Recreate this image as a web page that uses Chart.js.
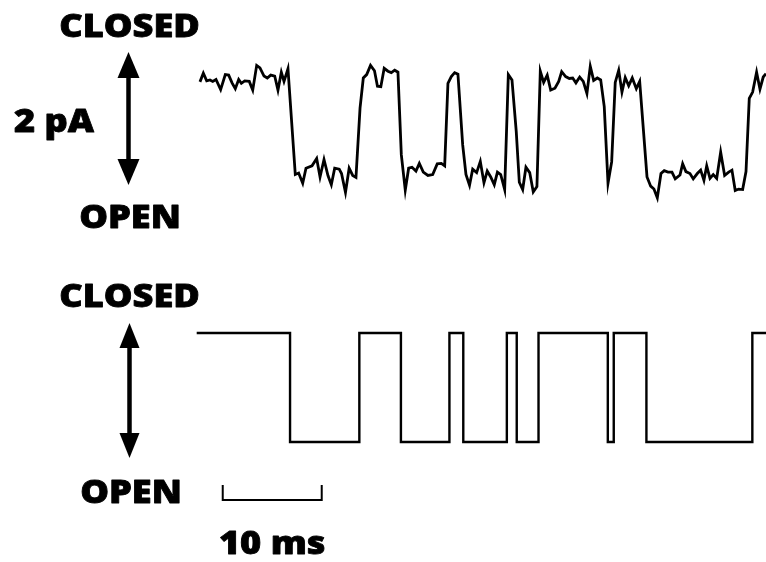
<!DOCTYPE html>
<html>
<head>
<meta charset="utf-8">
<title>Single-channel recording</title>
<script src="https://cdn.jsdelivr.net/npm/chart.js@4.4.1/dist/chart.umd.min.js"></script>
<style>
  html, body { margin: 0; padding: 0; background: #ffffff; }
  #wrap { position: relative; width: 766px; height: 562px; }
  canvas { display: block; }
</style>
</head>
<body>
<div id="wrap"><canvas id="trace" width="766" height="562"></canvas></div>
<script>
// Raw patch-clamp current: sample times (ms) and current (pA, closed level = 0)
const rawTime = [
  0.40, 0.74, 1.08, 1.41, 1.69, 2.02, 2.49, 2.96, 3.30, 3.64, 3.97, 4.31, 4.58, 4.92, 5.38, 5.73,
  6.13, 6.46, 6.87, 7.20, 7.55, 7.95, 8.28, 8.62, 8.89, 9.29, 10.03, 10.37, 10.78, 11.11, 11.72, 12.19,
  12.53, 12.93, 13.33, 13.67, 14.01, 14.47, 14.70, 15.10, 15.47, 15.83, 16.16, 16.57, 16.90, 17.24, 17.63, 18.03,
  18.33, 18.67, 19.01, 19.39, 19.73, 20.07, 20.40, 20.74, 21.14, 21.48, 21.82, 22.22, 22.56, 22.96, 23.43, 23.91,
  24.37, 24.78, 25.12, 25.45, 25.79, 26.13, 26.46, 26.94, 27.27, 27.63, 27.95, 28.35, 28.72, 29.09, 29.42, 29.77,
  30.13, 30.45, 30.78, 31.18, 31.55, 31.92, 32.35, 32.66, 33.00, 33.33, 33.71, 34.07, 34.44, 34.78, 35.12, 35.48,
  35.83, 36.26, 36.64, 36.94, 37.34, 37.71, 38.05, 38.38, 38.76, 39.12, 39.49, 39.83, 40.17, 40.54, 40.88, 41.24,
  41.62, 41.99, 42.35, 42.70, 43.03, 43.36, 43.71, 44.07, 44.48, 44.82, 45.56, 45.93, 46.26, 46.60, 46.97, 47.30,
  47.68, 48.08, 48.41, 48.89, 49.16, 49.49, 49.90, 50.23, 50.64, 50.98, 51.31, 51.59, 51.92, 52.25, 52.60, 53.00,
  53.40, 53.81, 54.14, 54.47, 54.82, 55.22, 55.56, 55.89, 56.23, 56.63, 56.97, 57.30, 57.58
];
const rawCurrent = [
  -0.08, 0.10, -0.06, -0.04, -0.07, -0.03, -0.24, 0.07, 0.06, -0.10, -0.22, -0.03, -0.11, -0.06, -0.07, -0.25,
  0.26, 0.21, 0.04, 0.00, 0.06, 0.04, -0.25, 0.12, -0.07, 0.19, -1.99, -1.96, -2.17, -1.86, -1.81, -1.66,
  -2.04, -1.68, -2.01, -2.20, -1.86, -1.88, -1.97, -2.36, -1.86, -2.01, -2.05, -0.62, 0.00, 0.07, 0.26, 0.15,
  -0.17, -0.18, 0.20, 0.14, 0.11, 0.16, 0.12, -1.58, -2.31, -1.86, -1.84, -1.92, -1.76, -1.94, -2.01, -1.99,
  -1.77, -1.76, -1.81, -0.11, 0.03, 0.11, 0.08, -1.38, -1.99, -2.21, -1.88, -1.95, -1.72, -2.16, -1.92, -2.04,
  -2.20, -1.94, -1.99, -2.30, 0.07, -0.04, -1.10, -2.15, -2.30, -1.84, -1.95, -2.35, -2.24, 0.14, -0.09, 0.06,
  -0.25, -0.21, -0.07, 0.13, 0.03, -0.01, 0.00, -0.10, 0.02, -0.07, -0.32, 0.24, -0.05, 0.00, -0.04, -0.59,
  -2.17, -1.73, -0.09, 0.16, -0.29, 0.01, -0.16, 0.00, -0.22, -0.07, -2.04, -2.23, -2.29, -2.47, -1.97, -1.91,
  -1.94, -1.94, -2.08, -2.00, -1.77, -1.93, -1.97, -2.08, -1.97, -1.90, -2.11, -1.81, -2.07, -1.99, -2.07, -1.53,
  -2.01, -1.94, -1.90, -2.32, -2.29, -2.30, -1.93, -0.42, -0.29, 0.12, -0.23, 0.02, 0.09
];

// Idealised record: time (ms) at which each state begins, and the state (1 = closed, 0 = open)
const idealTime  = [0.07, 9.5, 16.5, 20.7, 25.6, 27.0, 31.4, 32.4, 34.6, 41.6, 42.2, 45.5, 56.2, 57.6];
const idealState = [1,    0,   1,    0,    1,    0,    1,    0,    1,    0,    1,    0,    1,    1];

// Text labels
const stateLabels = { closed: 'CLOSED', open: 'OPEN' };
const currentScaleLabel = '2 pA';
const timeScaleMs = 10;
const timeScaleLabel = '10 ms';

const rawPoints = rawTime.map((t, i) => ({ x: t, y: rawCurrent[i] }));
const idealPoints = idealTime.map((t, i) => ({ x: t, y: idealState[i] }));

const FONT = '800 32px "Open Sans", "DejaVu Sans", sans-serif';
const STRETCH = 1.13;

function label(ctx, text, cx, baseline) {
  ctx.save();
  ctx.translate(cx, baseline);
  ctx.scale(STRETCH, 1);
  ctx.font = FONT;
  ctx.fillStyle = '#000';
  ctx.strokeStyle = '#000';
  ctx.lineWidth = 0.8;
  ctx.lineJoin = 'round';
  ctx.textAlign = 'center';
  ctx.textBaseline = 'alphabetic';
  ctx.fillText(text, 0, 0);
  ctx.strokeText(text, 0, 0);
  ctx.restore();
}

function doubleArrow(ctx, x, yTop, yBottom, headLen, headW) {
  ctx.save();
  ctx.fillStyle = '#000';
  ctx.strokeStyle = '#000';
  ctx.lineWidth = 4.5;
  ctx.beginPath();
  ctx.moveTo(x, yTop + headLen - 2);
  ctx.lineTo(x, yBottom - headLen + 2);
  ctx.stroke();
  ctx.beginPath();
  ctx.moveTo(x, yTop);
  ctx.lineTo(x - headW / 2, yTop + headLen);
  ctx.lineTo(x + headW / 2, yTop + headLen);
  ctx.closePath();
  ctx.fill();
  ctx.beginPath();
  ctx.moveTo(x, yBottom);
  ctx.lineTo(x - headW / 2, yBottom - headLen);
  ctx.lineTo(x + headW / 2, yBottom - headLen);
  ctx.closePath();
  ctx.fill();
  ctx.restore();
}

const annotations = {
  id: 'traceAnnotations',
  afterDraw(chart) {
    const ctx = chart.ctx;
    const xs = chart.scales.x;

    // upper panel: raw record
    label(ctx, stateLabels.closed, 129.5, 37);
    doubleArrow(ctx, 128.5, 52, 185, 26, 22);
    label(ctx, currentScaleLabel, 54, 132);
    label(ctx, stateLabels.open, 130, 228);

    // lower panel: idealised record
    label(ctx, stateLabels.closed, 129.5, 307);
    doubleArrow(ctx, 129.5, 323, 458, 25, 20);
    label(ctx, stateLabels.open, 131, 503);

    // time scale bar
    const x0 = xs.getPixelForValue(2.7);
    const x1 = xs.getPixelForValue(2.7 + timeScaleMs);
    ctx.save();
    ctx.strokeStyle = '#000';
    ctx.lineWidth = 2;
    ctx.beginPath();
    ctx.moveTo(x0, 485);
    ctx.lineTo(x0, 500);
    ctx.lineTo(x1, 500);
    ctx.lineTo(x1, 485);
    ctx.stroke();
    ctx.restore();
    label(ctx, timeScaleLabel, (x0 + x1) / 2, 554);
  }
};

new Chart(document.getElementById('trace'), {
  type: 'line',
  data: {
    datasets: [
      {
        label: 'Current',
        data: rawPoints,
        yAxisID: 'yRaw',
        borderColor: '#000',
        borderWidth: 2.8,
        pointRadius: 0,
        tension: 0,
        fill: false,
        borderJoinStyle: 'miter'
      },
      {
        label: 'Idealised',
        data: idealPoints,
        yAxisID: 'yIdeal',
        borderColor: '#000',
        borderWidth: 2.4,
        pointRadius: 0,
        stepped: 'before',
        fill: false,
        borderJoinStyle: 'miter'
      }
    ]
  },
  options: {
    responsive: false,
    animation: false,
    events: [],
    layout: { padding: 0 },
    plugins: { legend: { display: false }, tooltip: { enabled: false }, title: { display: false } },
    scales: {
      x: { type: 'linear', min: -19.8, max: 57.58, display: false },
      yRaw: { type: 'linear', min: -9.979, max: 1.608, display: false },
      yIdeal: { type: 'linear', min: -1.101, max: 4.055, display: false }
    }
  },
  plugins: [annotations]
});
</script>
</body>
</html>
